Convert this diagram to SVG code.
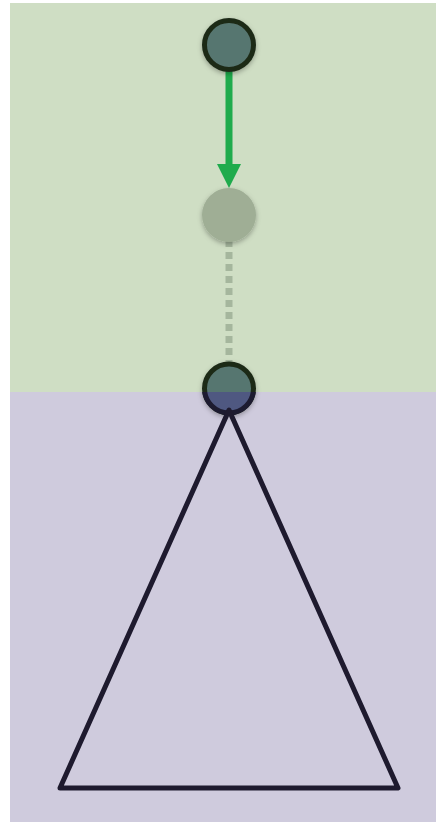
<svg xmlns="http://www.w3.org/2000/svg" width="436" height="822" viewBox="0 0 436 822">
<style>
.node{stroke-width:5}
.edge{fill:none;stroke-width:7}
</style>
<defs>
<filter id="sh" x="-50%" y="-50%" width="200%" height="200%">
<feDropShadow dx="0" dy="2" stdDeviation="2.5" flood-color="#000" flood-opacity="0.3"/>
</filter>
<clipPath id="lower"><rect x="0" y="392" width="436" height="430"/></clipPath>
<marker id="ah" viewBox="0 0 24 24" markerWidth="24" markerHeight="24" refX="12" refY="24" orient="auto" markerUnits="userSpaceOnUse">
<path d="M0,0 L24,0 L12,24 Z" fill="#1fab4c"/>
</marker>
</defs>
<rect x="0" y="0" width="436" height="822" fill="#ffffff"/>
<rect id="region-top" x="10" y="3" width="426" height="389" fill="#cfdec4"/>
<rect id="region-bottom" x="10" y="392" width="426" height="430" fill="#cfcbdd"/>
<g id="connectors">
<line class="edge" x1="229" y1="240" x2="229" y2="364" stroke="#a5b69d" stroke-dasharray="7 5"/>
<line class="edge" x1="229" y1="70" x2="229" y2="165" stroke="#1fab4c"/>
<path d="M217,164 L241,164 L229,188 Z" fill="#1fab4c"/>
</g>
<g id="node-ghost">
<circle cx="229" cy="215" r="27" fill="#9fae95" filter="url(#sh)"/>
</g>
<g id="node-top">
<circle class="node" cx="229" cy="45" r="24.5" fill="#577670" stroke="#1d2a19" filter="url(#sh)"/>
</g>
<g id="node-bottom">
<circle class="node" cx="229" cy="388.5" r="24.5" fill="#577670" stroke="#1d2a19" filter="url(#sh)"/>
<circle class="node" cx="229" cy="388.5" r="24.5" fill="#4f5881" stroke="#1d1b30" clip-path="url(#lower)"/>
</g>
<g id="triangle">
<path d="M229,410 L398,788 L60,788 Z" fill="none" stroke="#1e1a2e" stroke-width="5" stroke-linejoin="round"/>
</g>
</svg>
